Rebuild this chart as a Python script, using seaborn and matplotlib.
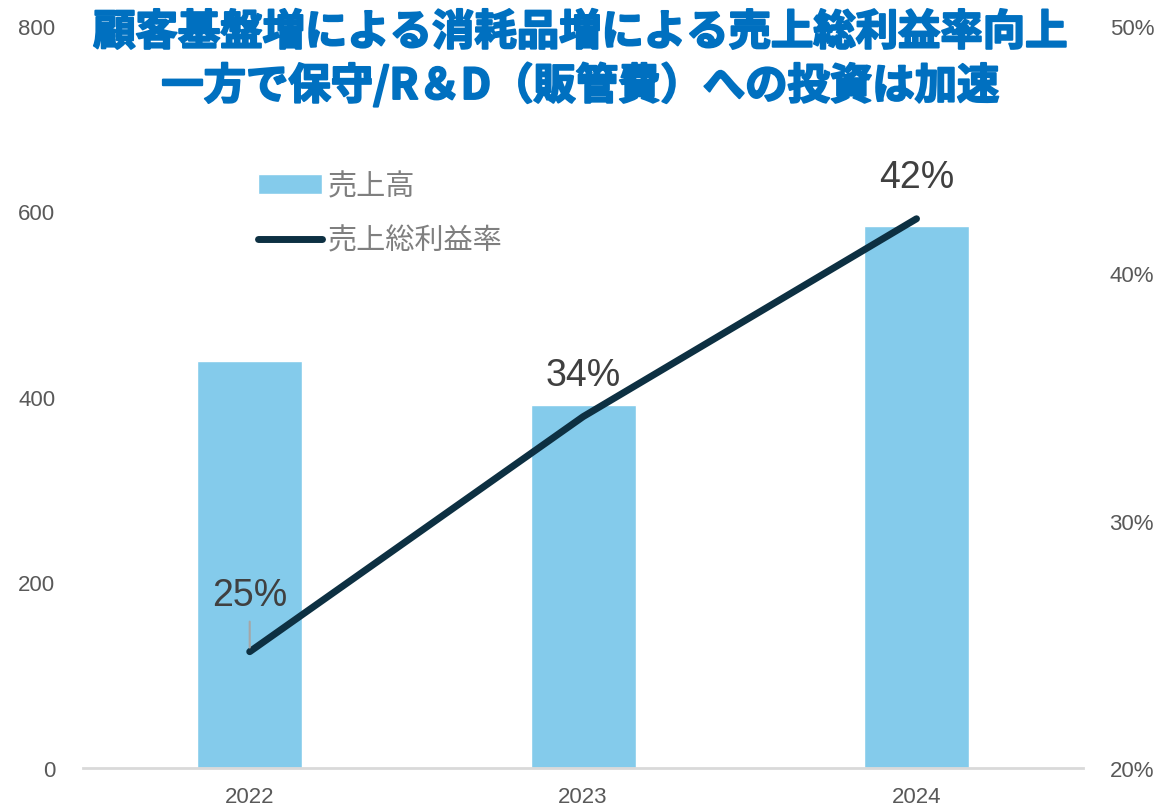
import numpy as np
import matplotlib
matplotlib.use("Agg")
import matplotlib.pyplot as plt
import matplotlib.patheffects as pe
import seaborn as sns

# data
years = ["2022", "2023", "2024"]
sales = [439, 391, 584]
margin = [24.7, 34.2, 42.2]
left_ticks = [0, 200, 400, 600, 800]
right_ticks = [20, 30, 40, 50]

title = "顧客基盤増による消耗品増による売上総利益率向上\n一方で保守/R＆D（販管費）への投資は加速"

sns.set_style("white")
plt.rcParams["font.family"] = ["Noto Sans CJK JP", "DejaVu Sans"]

bar_color = "#84CBEB"
line_color = "#0D3042"
tick_color = "#595959"
num_font = ["Liberation Sans", "DejaVu Sans"]

fig = plt.figure(figsize=(11.61, 8.12), dpi=100)
ax = fig.add_axes([0.0715, 0.053, 0.8615, 0.914])

sns.barplot(x=years, y=sales, color=bar_color, width=0.315, saturation=1,
            label="売上高", ax=ax)
if ax.get_legend() is not None:
    ax.get_legend().remove()
ax.set_xlim(-0.5, 2.5)
ax.set_ylim(0, 800)
ax.set_yticks(left_ticks)
ax.set_xlabel("")
ax.set_ylabel("")
for s in ["top", "right", "left"]:
    ax.spines[s].set_visible(False)
ax.spines["bottom"].set_color("#D9D9D9")
ax.spines["bottom"].set_linewidth(2)
ax.tick_params(axis="y", length=0, pad=20, labelsize=16, labelcolor=tick_color)
ax.tick_params(axis="x", length=0, pad=13, labelsize=16, labelcolor=tick_color)
for lab in ax.get_xticklabels() + ax.get_yticklabels():
    lab.set_family(num_font)

ax2 = ax.twinx()
pos = np.arange(len(years))
sns.lineplot(x=pos, y=margin, color=line_color, linewidth=5, label="売上総利益率",
             legend=False, ax=ax2, solid_capstyle="round")
ax2.set_ylim(20, 50)
ax2.set_yticks(right_ticks)
ax2.set_yticklabels([f"{t}%" for t in right_ticks])
for s in ["top", "right", "left", "bottom"]:
    ax2.spines[s].set_visible(False)
ax2.tick_params(axis="y", length=0, pad=19, labelsize=16, labelcolor=tick_color)
for lab in ax2.get_yticklabels():
    lab.set_family(num_font)

# data labels
offsets = [(0, 28), (0, 17), (0, 17)]
for i, (v, off) in enumerate(zip(margin, offsets)):
    arrow = dict(arrowstyle="-", color="#A6A6A6", lw=1.5, shrinkA=4, shrinkB=3) if i == 0 else None
    ax2.annotate(f"{v:.0f}%", xy=(pos[i], v), xytext=off, textcoords="offset points",
                 ha="center", va="bottom", fontsize=27, color="#404040",
                 family=num_font, arrowprops=arrow)

h1, l1 = ax.get_legend_handles_labels()
h2, l2 = ax2.get_legend_handles_labels()
leg = ax2.legend(h1 + h2, l1 + l2, loc="upper left", bbox_to_anchor=(0.163, 0.82),
                 frameon=False, fontsize=21, handlelength=2.2, labelspacing=0.85,
                 handletextpad=0.2, borderaxespad=0)
for t in leg.get_texts():
    t.set_color("#7F7F7F")

fig.text(0.5, 0.984, title, ha="center", va="top", fontsize=30.5, fontweight="bold",
         color="#0070C0", linespacing=1.25,
         path_effects=[pe.withStroke(linewidth=1.5, foreground="#0070C0")])

fig.savefig("out.png", dpi=100)
